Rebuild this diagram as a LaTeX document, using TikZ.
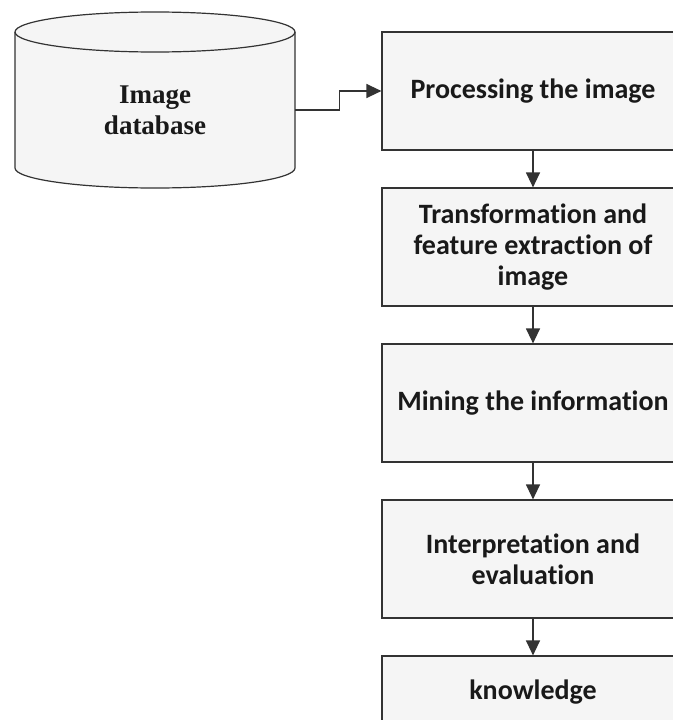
\documentclass[tikz,border=0pt]{standalone}
\usepackage{fontspec}
\usepackage{tikz}
\usetikzlibrary{arrows.meta}
\newfontfamily\boxfont[Ligatures=NoCommon]{Carlito}
\newfontfamily\dbfont{Liberation Serif}

\begin{document}
\begin{tikzpicture}[x=1pt,y=-1pt,
  stagebox/.style={draw=black!80,line width=1.2pt,fill=black!4,minimum width=302pt,minimum height=118pt,align=center,inner sep=0pt,text=black!90,font=\boxfont\bfseries\fontsize{28}{31}\selectfont},
  flow/.style={draw=black!80,line width=1.3pt,-{Triangle[length=15pt,width=14pt]}}]
\useasboundingbox (0,0) rectangle (672,720);
\fill[white] (0,0) rectangle (672,720);
\draw[black!80,line width=1.2pt,fill=black!4] (15,32) -- (15,168) arc[start angle=180,end angle=0,x radius=140,y radius=20] -- (295,32) arc[start angle=0,end angle=-180,x radius=140,y radius=20] -- cycle;
\draw[black!80,line width=1.2pt] (15,32) arc[start angle=180,end angle=0,x radius=140,y radius=20];
\node[minimum width=280pt,minimum height=0pt,inner sep=0pt,align=center,text=black!90,font=\dbfont\bfseries\fontsize{27}{31}\selectfont] (db) at (155,110) {Image\\database};
\node[stagebox] (proc) at (533,91) {Processing the image};
\node[stagebox] (feat) at (533,247) {Transformation and\\feature extraction of\\image};
\node[stagebox] (mine) at (533,403) {Mining the information};
\node[stagebox] (interp) at (533,559) {Interpretation and\\evaluation};
\node[stagebox,minimum height=72pt] (know) at (533,692) {knowledge};
\draw[flow] (db.east) -- ++(44,0) |- (proc.west);
\draw[flow] (proc) -- (feat);
\draw[flow] (feat) -- (mine);
\draw[flow] (mine) -- (interp);
\draw[flow] (interp) -- (know);
\end{tikzpicture}
\end{document}
